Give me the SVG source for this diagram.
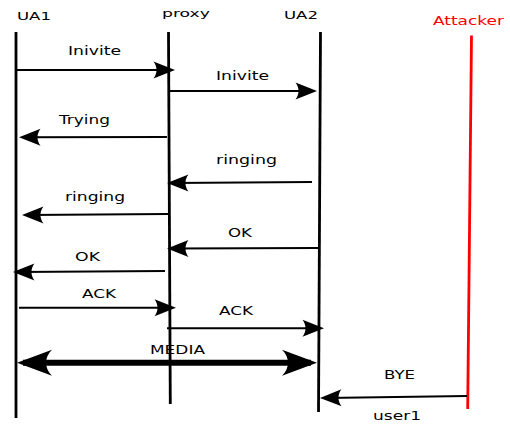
<svg xmlns="http://www.w3.org/2000/svg" width="510" height="424" viewBox="0 0 510 424">
<style>
text{font-family:"DejaVu Sans","Liberation Sans",sans-serif;fill:#000}
.hd{font-size:11px}
.lb{font-size:12px}
.life{stroke:#000;stroke-width:2.8;fill:none}
.msg{stroke:#000;stroke-width:2;fill:none;marker-end:url(#ah)}
.media{stroke:#000;stroke-width:6;fill:none;marker-end:url(#ahb);marker-start:url(#ahbs)}
</style>
<defs>
<marker id="ah" markerUnits="userSpaceOnUse" viewBox="-20 -10 28 20" refX="0" refY="0" markerWidth="28" markerHeight="20" orient="auto" overflow="visible">
<path d="M5,0 L-16.5,-8.5 C-12.5,-3 -12.5,3 -16.5,8.5 Z" fill="#000"/>
</marker>
<marker id="ahb" markerUnits="userSpaceOnUse" viewBox="-35 -15 45 30" refX="0" refY="0" markerWidth="45" markerHeight="30" orient="auto" overflow="visible">
<path d="M6,0 L-29,-13 C-21,-5 -21,5 -29,13 Z" fill="#000"/>
</marker>
<marker id="ahbs" markerUnits="userSpaceOnUse" viewBox="-10 -15 45 30" refX="0" refY="0" markerWidth="45" markerHeight="30" orient="auto" overflow="visible">
<path d="M-6,0 L29,-13 C21,-5 21,5 29,13 Z" fill="#000"/>
</marker>
</defs>
<rect width="510" height="424" fill="#fff"/>
<g id="UA1">
<line class="life" x1="16" y1="32" x2="16" y2="418"/>
<text class="hd" x="17" y="20" textLength="34" lengthAdjust="spacingAndGlyphs">UA1</text>
</g>
<g id="proxy">
<line class="life" x1="168.5" y1="32" x2="170.3" y2="404"/>
<text class="hd" x="162" y="17" textLength="48" lengthAdjust="spacingAndGlyphs">proxy</text>
</g>
<g id="UA2">
<line class="life" x1="320.5" y1="32" x2="318.5" y2="412"/>
<text class="hd" x="284" y="19" textLength="34" lengthAdjust="spacingAndGlyphs">UA2</text>
</g>
<g id="Attacker">
<line class="life" x1="471.5" y1="35.5" x2="467.7" y2="409" style="stroke:#ff0000"/>
<text class="lb" x="433" y="25" textLength="71" lengthAdjust="spacingAndGlyphs" style="fill:#ff0000">Attacker</text>
</g>
<g id="connectors">
<g id="m1"><line class="msg" x1="16" y1="70" x2="170" y2="70"/><text class="lb" x="68" y="55" textLength="53" lengthAdjust="spacingAndGlyphs">Inivite</text></g>
<g id="m2"><line class="msg" x1="170" y1="91" x2="312" y2="91"/><text class="lb" x="216" y="80" textLength="53" lengthAdjust="spacingAndGlyphs">Inivite</text></g>
<g id="m3"><line class="msg" x1="167" y1="137" x2="24" y2="137.3"/><text class="lb" x="59" y="124" textLength="51" lengthAdjust="spacingAndGlyphs">Trying</text></g>
<g id="m4"><line class="msg" x1="312" y1="182" x2="172" y2="183"/><text class="lb" x="216" y="164" textLength="61" lengthAdjust="spacingAndGlyphs">ringing</text></g>
<g id="m5"><line class="msg" x1="168" y1="214" x2="27" y2="215"/><text class="lb" x="65" y="200.5" textLength="60" lengthAdjust="spacingAndGlyphs">ringing</text></g>
<g id="m6"><line class="msg" x1="318" y1="248" x2="172" y2="248.5"/><text class="lb" x="228" y="237" textLength="24" lengthAdjust="spacingAndGlyphs">OK</text></g>
<g id="m7"><line class="msg" x1="165" y1="271" x2="18" y2="272"/><text class="lb" x="75" y="261" textLength="25" lengthAdjust="spacingAndGlyphs">OK</text></g>
<g id="m8"><line class="msg" x1="19" y1="307.7" x2="171" y2="307.7"/><text class="lb" x="82" y="298" textLength="34" lengthAdjust="spacingAndGlyphs">ACK</text></g>
<g id="m9"><line class="msg" x1="167" y1="328.3" x2="319" y2="328.3"/><text class="lb" x="219" y="315" textLength="34" lengthAdjust="spacingAndGlyphs">ACK</text></g>
<g id="m10"><line class="media" x1="23" y1="362.7" x2="311" y2="362.7"/><text class="lb" x="150" y="354" textLength="55" lengthAdjust="spacingAndGlyphs">MEDIA</text></g>
<g id="m11"><line class="msg" x1="467" y1="396" x2="325" y2="398"/><text class="lb" x="384" y="379" textLength="31" lengthAdjust="spacingAndGlyphs">BYE</text><text class="lb" x="373" y="420" textLength="48" lengthAdjust="spacingAndGlyphs">user1</text></g>
</g>
</svg>
